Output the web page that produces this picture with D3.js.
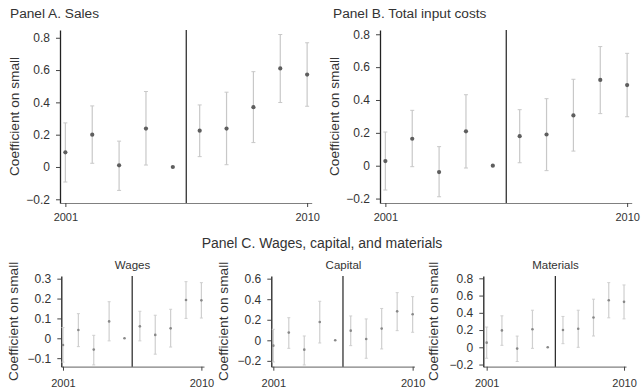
<!DOCTYPE html>
<html>
<head>
<meta charset="utf-8">
<script src="https://cdn.jsdelivr.net/npm/d3@7"></script>
<style>
  body { margin: 0; background: #fff; }
  svg { display: block; font-family: "Liberation Sans", Arial, Helvetica, sans-serif; }
</style>
</head>
<body>
<svg id="chart" width="641" height="388"></svg>
<script>
// years, 2005 is the omitted base year
const years = [2001, 2002, 2003, 2004, 2005, 2006, 2007, 2008, 2009, 2010];

// Panel A. Sales
const salesCoef = [0.091, 0.200, 0.010, 0.238, 0, 0.225, 0.238, 0.370, 0.610, 0.572];
const salesLo   = [-0.093, 0.023, -0.145, 0.012, null, 0.064, 0.014, 0.151, 0.399, 0.376];
const salesHi   = [0.273, 0.378, 0.160, 0.467, null, 0.384, 0.463, 0.590, 0.820, 0.769];

// Panel B. Total input costs
const costsCoef = [0.028, 0.164, -0.039, 0.209, 0, 0.180, 0.190, 0.306, 0.522, 0.491];
const costsLo   = [-0.148, -0.006, -0.189, -0.014, null, 0.018, -0.030, 0.089, 0.317, 0.298];
const costsHi   = [0.205, 0.337, 0.116, 0.432, null, 0.341, 0.408, 0.526, 0.725, 0.684];

// Panel C. Wages
const wagesCoef = [-0.034, 0.042, -0.057, 0.085, 0, 0.060, 0.017, 0.050, 0.193, 0.191];
const wagesLo   = [-0.120, -0.042, -0.134, -0.013, null, -0.013, -0.080, -0.044, 0.100, 0.102];
const wagesHi   = [0.054, 0.124, 0.015, 0.184, null, 0.136, 0.116, 0.146, 0.285, 0.280];

// Panel C. Capital
const capitalCoef = [-0.052, 0.075, -0.091, 0.178, 0, 0.094, 0.013, 0.114, 0.282, 0.253];
const capitalLo   = [-0.211, -0.078, -0.240, -0.026, null, -0.052, -0.175, -0.084, 0.094, 0.078];
const capitalHi   = [0.107, 0.220, 0.042, 0.380, null, 0.237, 0.208, 0.310, 0.464, 0.425];

// Panel C. Materials
const materialsCoef = [0.054, 0.196, -0.015, 0.210, 0, 0.200, 0.215, 0.346, 0.546, 0.527];
const materialsLo   = [-0.127, 0.023, -0.165, -0.012, null, 0.042, 0.000, 0.131, 0.342, 0.330];
const materialsHi   = [0.235, 0.365, 0.130, 0.430, null, 0.358, 0.430, 0.558, 0.750, 0.723];

const bigTicks = [-0.2, 0, 0.2, 0.4, 0.6, 0.8];
const wageTicks = [-0.1, 0, 0.1, 0.2, 0.3];
const capTicks = [-0.2, 0, 0.2, 0.4, 0.6];
const xTicks = [2001, 2010];
const policyYear = 2005.5;

const svg = d3.select("#chart");
const fmt = v => v === 0 ? "0" : (v < 0 ? "\u2212" + d3.format(".1f")(-v) : d3.format(".1f")(v));

function drawPanel(p) {
    const x = d3.scaleLinear().domain(p.xDom).range([p.left, p.right]);
    const y = d3.scaleLinear().domain(p.yDom).range([p.bottom, p.top]);
    const g = svg.append("g");

    // x axis
    g.append("g")
        .attr("transform", `translate(0,${p.bottom})`)
        .call(d3.axisBottom(x).tickValues(xTicks).tickFormat(d3.format("d")).tickSize(4).tickPadding(3).tickSizeOuter(0))
        .call(a => a.select(".domain").attr("stroke", "#808080").attr("stroke-width", 1.2))
        .call(a => a.selectAll(".tick line").attr("stroke", "#444"))
        .call(a => a.selectAll("text").attr("fill", "#333").attr("font-size", 11).attr("dy", p.small ? "1.2em" : "1.0em"));

    // y axis
    g.append("g")
        .attr("transform", `translate(${p.left},0)`)
        .call(d3.axisLeft(y).tickValues(p.ticks).tickFormat(fmt).tickSize(4).tickPadding(6).tickSizeOuter(0))
        .call(a => a.select(".domain").attr("stroke", "#222").attr("stroke-width", 1.3))
        .call(a => a.selectAll(".tick line").attr("stroke", "#444"))
        .call(a => a.selectAll("text").attr("fill", "#333").attr("font-size", 12));

    // y label
    g.append("text")
        .attr("transform", `translate(${p.labelX},${(p.top + p.bottom) / 2}) rotate(-90)`)
        .attr("text-anchor", "middle")
        .attr("font-size", 13.7)
        .attr("fill", "#333")
        .text("Coefficient on small");

    // policy line
    g.append("line")
        .attr("x1", x(policyYear)).attr("x2", x(policyYear))
        .attr("y1", p.top).attr("y2", p.bottom)
        .attr("stroke", "#222").attr("stroke-width", 1.2);

    const rows = years.map((yr, i) => ({ yr, c: p.coef[i], lo: p.lo[i], hi: p.hi[i] }));
    const ci = rows.filter(d => d.lo !== null);
    const cap = p.small ? 1.5 : 2;

    g.append("g").selectAll("line").data(ci).join("line")
        .attr("x1", d => x(d.yr)).attr("x2", d => x(d.yr))
        .attr("y1", d => y(d.lo)).attr("y2", d => y(d.hi))
        .attr("stroke", p.ciColor).attr("stroke-width", 1.2);
    g.append("g").selectAll("line").data(ci.flatMap(d => [[d.yr, d.lo], [d.yr, d.hi]])).join("line")
        .attr("x1", d => x(d[0]) - cap).attr("x2", d => x(d[0]) + cap)
        .attr("y1", d => y(d[1])).attr("y2", d => y(d[1]))
        .attr("stroke", p.ciColor).attr("stroke-width", 1);

    g.append("g").selectAll("circle").data(rows).join("circle")
        .attr("cx", d => x(d.yr)).attr("cy", d => y(d.c))
        .attr("r", p.small ? 1.3 : 2.1)
        .attr("fill", p.small ? "#888" : "#5e5e5e");

    if (p.title) {
        svg.append("text")
            .attr("x", p.titleX).attr("y", p.titleY)
            .attr("text-anchor", p.titleAnchor || "start")
            .attr("font-size", p.titleSize)
            .attr("fill", "#333")
            .text(p.title);
    }
}

drawPanel({ left: 60, right: 311.7, top: 30, bottom: 203, xDom: [2000.8, 2010.17], yDom: [-0.223, 0.848],
    ticks: bigTicks, coef: salesCoef, lo: salesLo, hi: salesHi, labelX: 19, ciColor: "#c8c8c8",
    title: "Panel A. Sales", titleX: 10, titleY: 17.5, titleSize: 13.7 });

drawPanel({ left: 380, right: 631.7, top: 30, bottom: 203, xDom: [2000.8, 2010.17], yDom: [-0.227, 0.826],
    ticks: bigTicks, coef: costsCoef, lo: costsLo, hi: costsHi, labelX: 339, ciColor: "#c8c8c8",
    title: "Panel B. Total input costs", titleX: 333, titleY: 17.5, titleSize: 13.7 });

drawPanel({ left: 61.3, right: 204, top: 276, bottom: 366.7, xDom: [2000.89, 2010.17], yDom: [-0.143, 0.3135],
    ticks: wageTicks, coef: wagesCoef, lo: wagesLo, hi: wagesHi, labelX: 18, ciColor: "#cfcfcf", small: true,
    title: "Wages", titleX: 132.5, titleY: 268.5, titleSize: 11.5, titleAnchor: "middle" });

drawPanel({ left: 271.3, right: 414.5, top: 276, bottom: 366.7, xDom: [2000.87, 2010.12], yDom: [-0.257, 0.626],
    ticks: capTicks, coef: capitalCoef, lo: capitalLo, hi: capitalHi, labelX: 228, ciColor: "#cfcfcf", small: true,
    title: "Capital", titleX: 343.5, titleY: 268.5, titleSize: 11.5, titleAnchor: "middle" });

drawPanel({ left: 483.3, right: 626, top: 276, bottom: 366.7, xDom: [2000.78, 2010.13], yDom: [-0.225, 0.827],
    ticks: bigTicks, coef: materialsCoef, lo: materialsLo, hi: materialsHi, labelX: 438, ciColor: "#cfcfcf", small: true,
    title: "Materials", titleX: 555.5, titleY: 268.5, titleSize: 11.5, titleAnchor: "middle" });

svg.append("text")
    .attr("x", 322).attr("y", 247.5)
    .attr("text-anchor", "middle")
    .attr("font-size", 14)
    .attr("fill", "#333")
    .text("Panel C. Wages, capital, and materials");
</script>
</body>
</html>
